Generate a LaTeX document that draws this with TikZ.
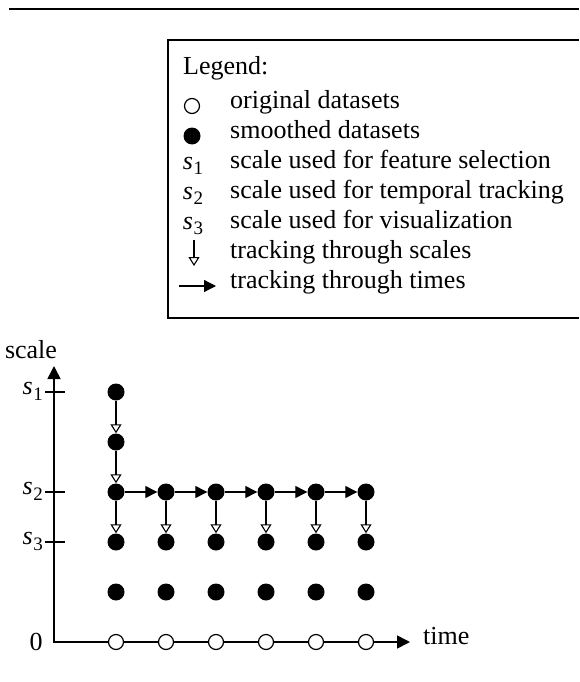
\documentclass[tikz,border=0pt]{standalone}
\usepackage{fontspec}
\setmainfont{Liberation Serif}
\usetikzlibrary{arrows.meta}
\newcommand\sv[1]{\textit{s}\kern0.5pt\raisebox{-0.22em}{\fontsize{19}{19}\selectfont #1}}
\begin{document}
\begin{tikzpicture}[x=1pt,y=-1pt,
  font=\fontsize{26}{30}\selectfont,
  fdot/.style={circle,fill=black,inner sep=0pt,minimum size=17pt},
  odot/.style={circle,draw=black,fill=white,line width=1.2pt,inner sep=0pt,minimum size=15pt},
  scalearr/.style={line width=1.3pt,-{Triangle[open,length=9pt,width=11pt,line width=1.1pt]}},
  timearr/.style={line width=1.3pt,-{Triangle[length=12pt,width=12pt]}},
  axis/.style={line width=1.6pt,line join=miter,{Triangle[length=13pt,width=13pt]}-{Triangle[length=13pt,width=13pt]}},
  tick/.style={line width=1.6pt},
  frame/.style={line width=1.3pt},
  lbl/.style={anchor=west,inner sep=0pt,text height=0.7em,text depth=0.2em},
  slbl/.style={anchor=east,inner sep=0pt,text height=0.7em,text depth=0.2em}]
\useasboundingbox (0,0) rectangle (579,682);

% top rule
\coordinate (r1) at (9,9);
\coordinate (r2) at (579,9);
\draw[frame] (r1) -- (r2);

% legend frame
\coordinate (b1) at (579,40);
\coordinate (b2) at (168,40);
\coordinate (b3) at (168,318);
\coordinate (b4) at (579,318);
\draw[frame] (b1) -- (b2) -- (b3) -- (b4);

% legend content
\node[lbl] (leg) at (183,72) {Legend:};
\node[odot] (lo) at (192,106) {};
\node[lbl] (lot) at (230,106) {original datasets};
\node[fdot] (lf) at (192,136) {};
\node[lbl] (lft) at (230,136) {smoothed datasets};
\node[inner sep=0pt] (l1) at (193,166) {\sv1};
\node[lbl] (l1t) at (230,166) {scale used for feature selection};
\node[inner sep=0pt] (l2) at (193,196) {\sv2};
\node[lbl] (l2t) at (230,196) {scale used for temporal tracking};
\node[inner sep=0pt] (l3) at (193,226) {\sv3};
\node[lbl] (l3t) at (230,226) {scale used for visualization};
\coordinate (la1) at (194,240);
\coordinate (la2) at (194,266);
\draw[scalearr] (la1) -- (la2);
\node[lbl] (lat) at (230,256) {tracking through scales};
\coordinate (lb1) at (179,286);
\coordinate (lb2) at (216,286);
\draw[timearr] (lb1) -- (lb2);
\node[lbl] (lbt) at (230,286) {tracking through times};

% axes
\coordinate (O) at (54,642);
\coordinate (ytip) at (54,366);
\coordinate (xtip) at (410,642);
\draw[axis] (ytip) -- (O) -- (xtip);
\node (lscale) at (31,350) {scale};
\node (lzero) at (36,642) {0};
\node[lbl] (ltime) at (423,642) {time};

% ticks and labels
\foreach \n/\y in {1/392,2/492,3/542}{
  \coordinate (ta\n) at (45,\y);
  \coordinate (tb\n) at (65,\y);
  \draw[tick] (ta\n) -- (tb\n);
  \node[slbl] (ls\n) at (43,\y) {\sv\n};
}

% dots
\node[fdot] (s1-1) at (116,392) {};
\node[fdot] (m-1) at (116,442) {};
\foreach \i in {1,...,6}{
  \pgfmathsetmacro\x{66+50*\i}
  \node[fdot] (s2-\i) at (\x,492) {};
  \node[fdot] (s3-\i) at (\x,542) {};
  \node[fdot] (r5-\i) at (\x,592) {};
  \node[odot] (o-\i) at (\x,642) {};
}

% tracking arrows
\draw[scalearr] (s1-1) -- (m-1);
\draw[scalearr] (m-1) -- (s2-1);
\foreach \i in {1,...,6}{
  \draw[scalearr] (s2-\i) -- (s3-\i);
}
\foreach \i/\j in {1/2,2/3,3/4,4/5,5/6}{
  \draw[timearr] (s2-\i) -- (s2-\j);
}
\end{tikzpicture}
\end{document}
